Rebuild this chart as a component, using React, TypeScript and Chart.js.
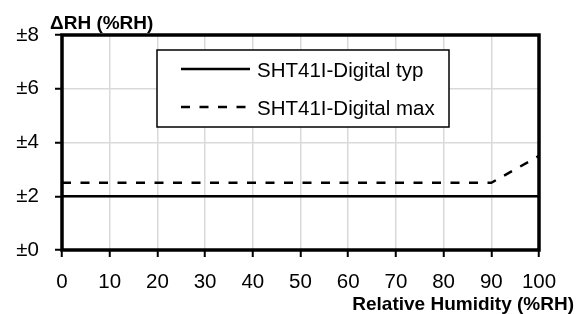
import React, { useEffect, useRef } from "react";
import { Chart, registerables } from "chart.js";

Chart.register(...registerables);

const humidity = [0, 10, 20, 30, 40, 50, 60, 70, 80, 90, 100];
const typAccuracy = [2, 2, 2, 2, 2, 2, 2, 2, 2, 2, 2];
const maxAccuracy = [2.5, 2.5, 2.5, 2.5, 2.5, 2.5, 2.5, 2.5, 2.5, 2.5, 3.5];
const seriesLabels = ["SHT41I-Digital typ", "SHT41I-Digital max"];
const xAxisTitle = "Relative Humidity (%RH)";
const yAxisTitle = "\u0394RH (%RH)";

const FONT = '"Liberation Sans", Arial, sans-serif';

const framePlugin = {
  id: "frame",
  afterDraw(chart: any) {
    const { ctx, chartArea } = chart;
    const { left, top, right, bottom } = chartArea;
    ctx.save();
    ctx.strokeStyle = "#000";
    ctx.lineWidth = 3.5;
    ctx.strokeRect(left, top, right - left, bottom - top);

    // legend
    const bx = left + 95;
    const by = top + 15;
    const bw = 292;
    const bh = 77;
    ctx.fillStyle = "#fff";
    ctx.fillRect(bx, by, bw, bh);
    ctx.lineWidth = 1.5;
    ctx.strokeRect(bx, by, bw, bh);
    const rows = [by + 19, by + 57];
    chart.data.datasets.forEach((ds: any, i: number) => {
      const y = rows[i];
      ctx.beginPath();
      ctx.setLineDash(ds.borderDash || []);
      ctx.lineWidth = 2.5;
      ctx.strokeStyle = "#000";
      ctx.moveTo(bx + 24, y);
      ctx.lineTo(bx + 93, y);
      ctx.stroke();
      ctx.setLineDash([]);
      ctx.fillStyle = "#000";
      ctx.font = `20.5px ${FONT}`;
      ctx.textAlign = "left";
      ctx.textBaseline = "alphabetic";
      ctx.fillText(ds.label, bx + 100, y + 7.5);
    });

    // titles
    ctx.font = `bold 19px ${FONT}`;
    ctx.fillStyle = "#000";
    ctx.textBaseline = "alphabetic";
    ctx.textAlign = "left";
    ctx.fillText(yAxisTitle, left - 12, top - 6);
    ctx.textAlign = "right";
    ctx.fillText(xAxisTitle, chart.width - 8, chart.height - 4);
    ctx.restore();
  },
};

export default function App() {
  const ref = useRef<HTMLCanvasElement | null>(null);

  useEffect(() => {
    if (!ref.current) return;
    const chart = new Chart(ref.current, {
      type: "line",
      data: {
        datasets: [
          {
            label: seriesLabels[0],
            data: humidity.map((h, i) => ({ x: h, y: typAccuracy[i] })),
            borderColor: "#000",
            borderWidth: 2.5,
            pointRadius: 0,
            tension: 0,
            fill: false,
          },
          {
            label: seriesLabels[1],
            data: humidity.map((h, i) => ({ x: h, y: maxAccuracy[i] })),
            borderColor: "#000",
            borderWidth: 2.5,
            borderDash: [9, 9.5],
            pointRadius: 0,
            tension: 0,
            fill: false,
          },
        ],
      },
      plugins: [framePlugin],
      options: {
        animation: false,
        responsive: false,
        maintainAspectRatio: false,
        devicePixelRatio: 1,
        layout: { padding: { top: 35, right: 43, left: 0, bottom: 0 } },
        plugins: {
          legend: { display: false },
          tooltip: { enabled: false },
        },
        scales: {
          x: {
            type: "linear",
            min: 0,
            max: 100,
            afterFit: (s: any) => {
              s.height = 64;
            },
            ticks: {
              stepSize: 10,
              color: "#000",
              font: { family: FONT, size: 20.5 },
              padding: 13,
              maxRotation: 0,
            },
            grid: {
              color: "#d9d9d9",
              lineWidth: 1.5,
              tickColor: "#000",
              tickLength: 7,
              tickWidth: 2,
            },
            border: { display: false },
          },
          y: {
            type: "linear",
            min: 0,
            max: 8,
            afterFit: (s: any) => {
              s.width = 62;
            },
            ticks: {
              stepSize: 1,
              color: "#000",
              font: { family: FONT, size: 20.5 },
              padding: 16,
              callback: (v: any) => (Number(v) % 2 === 0 ? "\u00b1" + v : ""),
            },
            grid: {
              color: "#d9d9d9",
              lineWidth: 1.5,
              tickColor: (c: any) =>
                c.tick && c.tick.value % 2 === 0 ? "#000" : "rgba(0,0,0,0)",
              tickLength: 7,
              tickWidth: 2,
            },
            border: { display: false },
          },
        },
      },
    });
    return () => chart.destroy();
  }, []);

  return (
    <div style={{ position: "fixed", left: 0, top: 0, width: 582, height: 314, background: "#fff" }}>
      <canvas ref={ref} width={582} height={314} />
    </div>
  );
}
